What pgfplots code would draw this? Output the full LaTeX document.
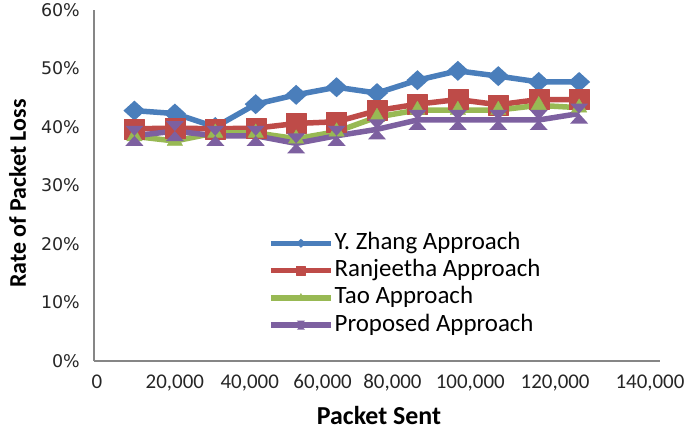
\documentclass[border=0pt]{standalone}
\usepackage{fontspec}
\setmainfont{Carlito}
\newfontfamily\dejavu{DejaVu Sans}
\usepackage{pgfplots}
\pgfplotsset{compat=1.18}
\definecolor{cblue}{HTML}{4A7EBB}
\definecolor{cred}{HTML}{BE4B48}
\definecolor{cgreen}{HTML}{98B954}
\definecolor{cpurple}{HTML}{7D60A0}
\definecolor{caxis}{HTML}{868686}
\pgfdeclareplotmark{mydiamond}{%
  \pgfpathmoveto{\pgfqpoint{0pt}{\pgfplotmarksize}}%
  \pgfpathlineto{\pgfqpoint{1.1\pgfplotmarksize}{0pt}}%
  \pgfpathlineto{\pgfqpoint{0pt}{-\pgfplotmarksize}}%
  \pgfpathlineto{\pgfqpoint{-1.1\pgfplotmarksize}{0pt}}%
  \pgfpathclose\pgfusepathqfill}
\pgfdeclareplotmark{hourglass}{%
  \pgfpathmoveto{\pgfqpoint{-0.9\pgfplotmarksize}{\pgfplotmarksize}}%
  \pgfpathlineto{\pgfqpoint{0.9\pgfplotmarksize}{\pgfplotmarksize}}%
  \pgfpathlineto{\pgfqpoint{0pt}{0pt}}%
  \pgfpathlineto{\pgfqpoint{0.9\pgfplotmarksize}{-\pgfplotmarksize}}%
  \pgfpathlineto{\pgfqpoint{-0.9\pgfplotmarksize}{-\pgfplotmarksize}}%
  \pgfpathlineto{\pgfqpoint{0pt}{0pt}}%
  \pgfpathclose\pgfusepathqfill}
\begin{document}
\begin{tikzpicture}
\begin{axis}[
  scale only axis, width=566bp, height=351bp,
  xmin=0, xmax=140000, ymin=0, ymax=60,
  axis x line=bottom, axis y line=left,
  axis line style={-, caxis, line width=1.3bp},
  major tick length=0pt,
  xtick={0,20000,...,140000}, ytick={0,10,...,60},
  scaled x ticks=false,
  /pgf/number format/assume math mode=true,
  xticklabel={\pgfmathsetmacro\sh{{6,0,-12,-28,-50,-56,-48,-20}[\ticknum]}\hspace*{\sh bp}\pgfmathprintnumber[fixed,precision=0,1000 sep={,}]{\tick}},
  xticklabel style={font=\fontsize{21}{21}\selectfont, anchor=base, yshift=-27bp, inner sep=0pt, text=black!85},
  yticklabel={\pgfmathprintnumber[fixed,precision=0]{\tick}\%},
  yticklabel style={font=\dejavu\fontsize{17.5}{17.5}\selectfont, anchor=east, xshift=-14bp, inner sep=0pt, text=black!85},
  xlabel={Packet Sent},
  xlabel style={font=\bfseries\fontsize{26}{26}\selectfont, at={(axis description cs:0.5035,-0.155)}, anchor=center},
  ylabel={Rate of Packet Loss},
  ylabel style={font=\bfseries\fontsize{24}{24}\selectfont, at={(axis description cs:-0.135,0.477)}, anchor=center},
  clip=false,
  legend cell align=left,
  legend style={at={(axis description cs:0.3074,0.373)}, anchor=north west, draw=none, fill=none, inner sep=0pt,
    font=\fontsize{25}{25}\selectfont, row sep=1.3bp,
    nodes={inner sep=1bp, text height=18bp, text depth=6bp}},
  legend image code/.code={\draw[mark repeat=2, mark phase=2, mark size=4.5bp] plot coordinates {(0bp,0bp) (30bp,0bp) (60bp,0bp)};},
  every axis plot/.append style={line width=5.5bp, line join=round, mark options={line width=0.3bp}},
]
\addplot[cblue, mark=mydiamond, mark size=10bp] coordinates {
(10000,42.8) (20000,42.3) (30000,40.0) (40000,43.9) (50000,45.5) (60000,46.8)
(70000,45.8) (80000,48.0) (90000,49.6) (100000,48.7) (110000,47.7) (120000,47.7)};
\addlegendentry{Y. Zhang Approach}
\addplot[cred, mark=square*, mark size=10bp] coordinates {
(10000,39.7) (20000,39.8) (30000,39.7) (40000,39.8) (50000,40.6) (60000,40.9)
(70000,42.8) (80000,43.9) (90000,44.7) (100000,43.8) (110000,44.7) (120000,44.7)};
\addlegendentry{Ranjeetha Approach}
\addplot[cgreen, mark=triangle*, mark size=9bp] coordinates {
(10000,38.4) (20000,37.6) (30000,39.0) (40000,39.0) (50000,38.0) (60000,39.2)
(70000,41.7) (80000,42.9) (90000,42.9) (100000,42.9) (110000,43.7) (120000,43.3)};
\addlegendentry{Tao Approach}
\addplot[cpurple, mark=hourglass, mark size=10bp] coordinates {
(10000,38.5) (20000,39.3) (30000,38.5) (40000,38.5) (50000,37.2) (60000,38.5)
(70000,39.6) (80000,41.2) (90000,41.2) (100000,41.2) (110000,41.2) (120000,42.3)};
\addlegendentry{Proposed Approach}
\end{axis}
\pgfresetboundingbox
\path (-94bp,-70bp) rectangle (591bp,361bp);
\end{tikzpicture}
\end{document}
